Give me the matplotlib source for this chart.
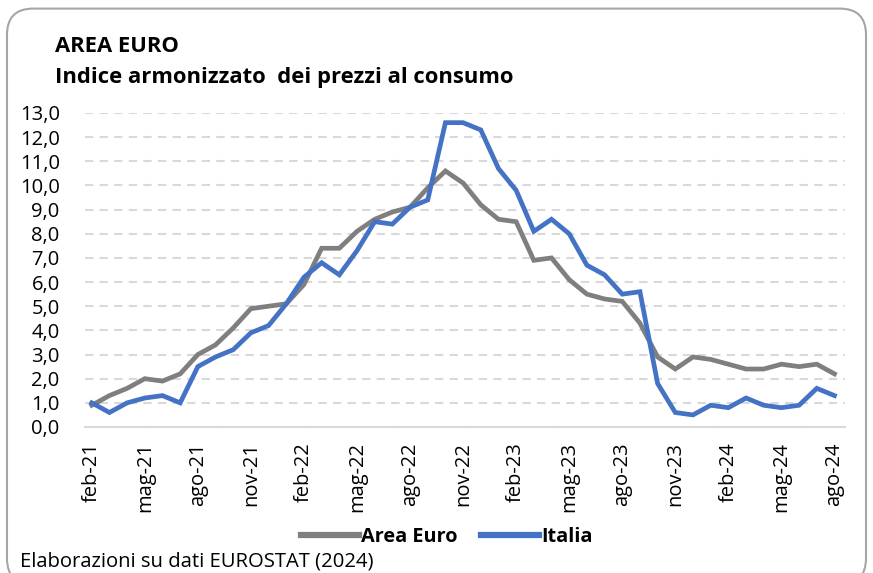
import matplotlib
matplotlib.use("Agg")
import matplotlib.pyplot as plt
from matplotlib.patches import FancyBboxPatch
from matplotlib.ticker import FuncFormatter

months = ["feb-21","mar-21","apr-21","mag-21","giu-21","lug-21","ago-21","set-21","ott-21","nov-21","dic-21",
          "gen-22","feb-22","mar-22","apr-22","mag-22","giu-22","lug-22","ago-22","set-22","ott-22","nov-22","dic-22",
          "gen-23","feb-23","mar-23","apr-23","mag-23","giu-23","lug-23","ago-23","set-23","ott-23","nov-23","dic-23",
          "gen-24","feb-24","mar-24","apr-24","mag-24","giu-24","lug-24","ago-24"]
area_euro = [0.9,1.3,1.6,2.0,1.9,2.2,3.0,3.4,4.1,4.9,5.0,
             5.1,5.9,7.4,7.4,8.1,8.6,8.9,9.1,9.9,10.6,10.1,9.2,
             8.6,8.5,6.9,7.0,6.1,5.5,5.3,5.2,4.3,2.9,2.4,2.9,
             2.8,2.6,2.4,2.4,2.6,2.5,2.6,2.2]
italia = [1.0,0.6,1.0,1.2,1.3,1.0,2.5,2.9,3.2,3.9,4.2,
          5.1,6.2,6.8,6.3,7.3,8.5,8.4,9.1,9.4,12.6,12.6,12.3,
          10.7,9.8,8.1,8.6,8.0,6.7,6.3,5.5,5.6,1.8,0.6,0.5,
          0.9,0.8,1.2,0.9,0.8,0.9,1.6,1.3]
title = "AREA EURO"
subtitle = "Indice armonizzato  dei prezzi al consumo"
source = "Elaborazioni su dati EUROSTAT (2024)"

plt.rcParams['font.family'] = ['Open Sans', 'DejaVu Sans']

fig = plt.figure(figsize=(8.73, 5.73), dpi=100)
fig.patch.set_facecolor("white")
border = FancyBboxPatch((0.008, -0.02), 0.984, 1.005, boxstyle="round,pad=0,rounding_size=0.03",
                        transform=fig.transFigure, facecolor="none", edgecolor="#a6a6a6", linewidth=1.5,
                        mutation_aspect=873/573, zorder=-5)
fig.patches.append(border)

ax = fig.add_axes([0.097, 0.2548, 0.871, 0.548])
ax.set_facecolor("none")
x = list(range(len(months)))
ax.plot(x, area_euro, color="#7f7f7f", lw=3.4, label="Area Euro", solid_joinstyle="miter")
ax.plot(x, italia, color="#4472c4", lw=3.4, label="Italia", solid_joinstyle="miter")

ax.set_ylim(0, 13)
ax.set_xlim(-0.4, 42.6)
ax.set_yticks(range(0, 14))
ax.yaxis.set_major_formatter(FuncFormatter(lambda v, p: f"{v:.1f}".replace(".", ",")))
ax.set_xticks(x[::3])
ax.set_xticklabels(months[::3], rotation=90)
ax.tick_params(axis="both", length=0, colors="#000000")
ax.tick_params(axis="x", pad=11, labelsize=14.5)
ax.tick_params(axis="y", pad=18, labelsize=14.5)
ax.grid(axis="y", color="#d9d9d9", linestyle=(0, (4, 3)), lw=1.5)
ax.set_axisbelow(True)
for s in ["top", "right", "left"]:
    ax.spines[s].set_visible(False)
ax.spines["bottom"].set_color("#d9d9d9")
ax.spines["bottom"].set_linewidth(1.5)

fig.text(55/873, 1-46/573, title, fontsize=15.8, fontweight="bold", va="center", ha="left")
fig.text(55/873, 1-78/573, subtitle, fontsize=15.8, fontweight="bold", va="center", ha="left")
fig.text(20/873, 1-562/573, source, fontsize=14.6, va="center", ha="left")

leg = fig.legend(loc="center", bbox_to_anchor=(447/873, 1-537/573), ncol=2, frameon=False,
                 prop={"weight": "bold", "size": 14.3}, handlelength=2.9, handletextpad=0.1, columnspacing=1.2)
for h in leg.legend_handles:
    h.set_linewidth(4.5)

fig.savefig("out.png", dpi=100, facecolor="white")
